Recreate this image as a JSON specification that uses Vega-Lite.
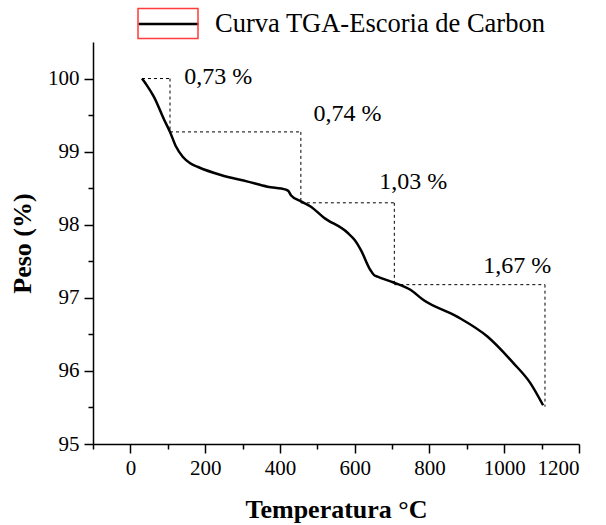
{
  "$schema": "https://vega.github.io/schema/vega-lite/v6.json",
  "width": 486,
  "height": 402,
  "autosize": "none",
  "padding": {"left": 93, "top": 42, "right": 27, "bottom": 81},
  "background": "white",
  "config": {
    "view": {"stroke": null},
    "font": "Liberation Serif",
    "axis": {
      "grid": false,
      "domainColor": "black",
      "domainWidth": 1.5,
      "tickColor": "black",
      "tickWidth": 1.5,
      "labelColor": "black",
      "labelFont": "Liberation Serif",
      "labelFontSize": 21,
      "titleFont": "Liberation Serif",
      "titleFontSize": 26,
      "titleFontWeight": "bold",
      "titleColor": "black"
    }
  },
  "datasets": {
    "curve": [
      {"T": 31, "W": 100.0, "series": "Curva TGA-Escoria de Carbon"},
      {"T": 45, "W": 99.9, "series": "Curva TGA-Escoria de Carbon"},
      {"T": 63, "W": 99.75, "series": "Curva TGA-Escoria de Carbon"},
      {"T": 90, "W": 99.44, "series": "Curva TGA-Escoria de Carbon"},
      {"T": 106, "W": 99.27, "series": "Curva TGA-Escoria de Carbon"},
      {"T": 122, "W": 99.07, "series": "Curva TGA-Escoria de Carbon"},
      {"T": 140, "W": 98.93, "series": "Curva TGA-Escoria de Carbon"},
      {"T": 160, "W": 98.84, "series": "Curva TGA-Escoria de Carbon"},
      {"T": 181, "W": 98.79, "series": "Curva TGA-Escoria de Carbon"},
      {"T": 242, "W": 98.68, "series": "Curva TGA-Escoria de Carbon"},
      {"T": 314, "W": 98.59, "series": "Curva TGA-Escoria de Carbon"},
      {"T": 367, "W": 98.52, "series": "Curva TGA-Escoria de Carbon"},
      {"T": 416, "W": 98.48, "series": "Curva TGA-Escoria de Carbon"},
      {"T": 423, "W": 98.46, "series": "Curva TGA-Escoria de Carbon"},
      {"T": 430, "W": 98.4, "series": "Curva TGA-Escoria de Carbon"},
      {"T": 456, "W": 98.32, "series": "Curva TGA-Escoria de Carbon"},
      {"T": 482, "W": 98.25, "series": "Curva TGA-Escoria de Carbon"},
      {"T": 517, "W": 98.1, "series": "Curva TGA-Escoria de Carbon"},
      {"T": 581, "W": 97.89, "series": "Curva TGA-Escoria de Carbon"},
      {"T": 600, "W": 97.79, "series": "Curva TGA-Escoria de Carbon"},
      {"T": 616, "W": 97.66, "series": "Curva TGA-Escoria de Carbon"},
      {"T": 642, "W": 97.38, "series": "Curva TGA-Escoria de Carbon"},
      {"T": 652, "W": 97.31, "series": "Curva TGA-Escoria de Carbon"},
      {"T": 661, "W": 97.29, "series": "Curva TGA-Escoria de Carbon"},
      {"T": 704, "W": 97.21, "series": "Curva TGA-Escoria de Carbon"},
      {"T": 749, "W": 97.11, "series": "Curva TGA-Escoria de Carbon"},
      {"T": 784, "W": 96.97, "series": "Curva TGA-Escoria de Carbon"},
      {"T": 875, "W": 96.74, "series": "Curva TGA-Escoria de Carbon"},
      {"T": 955, "W": 96.47, "series": "Curva TGA-Escoria de Carbon"},
      {"T": 1024, "W": 96.11, "series": "Curva TGA-Escoria de Carbon"},
      {"T": 1069, "W": 95.84, "series": "Curva TGA-Escoria de Carbon"},
      {"T": 1104, "W": 95.53, "series": "Curva TGA-Escoria de Carbon"}
    ],
    "steps": [
      {"x": 31, "y": 100.0, "x2": 106, "y2": 100.0},
      {"x": 106, "y": 100.0, "x2": 106, "y2": 99.27},
      {"x": 106, "y": 99.27, "x2": 456, "y2": 99.27},
      {"x": 456, "y": 99.27, "x2": 456, "y2": 98.3},
      {"x": 456, "y": 98.3, "x2": 706, "y2": 98.3},
      {"x": 706, "y": 98.3, "x2": 706, "y2": 97.18},
      {"x": 706, "y": 97.18, "x2": 1109, "y2": 97.18},
      {"x": 1109, "y": 97.18, "x2": 1109, "y2": 95.51}
    ],
    "labels": [
      {"T": 144, "W": 99.92, "label": "0,73 %"},
      {"T": 490, "W": 99.42, "label": "0,74 %"},
      {"T": 666, "W": 98.49, "label": "1,03 %"},
      {"T": 944, "W": 97.34, "label": "1,67 %"}
    ]
  },
  "layer": [
    {
      "data": {"name": "steps"},
      "mark": {"type": "rule", "color": "black", "strokeWidth": 1, "strokeDash": [3, 3]},
      "encoding": {
        "x": {
          "field": "x", "type": "quantitative",
          "scale": {"domain": [-100, 1200], "nice": false, "zero": false},
          "axis": {
            "orient": "bottom",
            "title": "Temperatura °C",
            "values": [0, 200, 400, 600, 800, 1000, 1200],
            "format": "d",
            "tickSize": 9,
            "labelPadding": 4,
            "titleX": 243,
            "titleY": 73,
            "titleBaseline": "alphabetic",
            "titleAlign": "center"
          }
        },
        "y": {
          "field": "y", "type": "quantitative",
          "scale": {"domain": [95, 100.5], "nice": false, "zero": false},
          "axis": {
            "orient": "left",
            "title": "Peso (%)",
            "values": [95, 96, 97, 98, 99, 100],
            "format": "d",
            "tickSize": 9,
            "labelPadding": 5,
            "titleX": -71,
            "titleY": 201,
            "titleBaseline": "middle",
            "titleAlign": "center"
          }
        },
        "x2": {"field": "x2"},
        "y2": {"field": "y2"}
      }
    },
    {
      "data": {"name": "labels"},
      "mark": {"type": "text", "font": "Liberation Serif", "fontSize": 24, "align": "left", "baseline": "alphabetic", "color": "black"},
      "encoding": {
        "x": {
          "field": "T", "type": "quantitative",
          "axis": {
            "orient": "bottom",
            "title": null,
            "values": [-100, 100, 300, 500, 700, 900, 1100],
            "labels": false,
            "domain": false,
            "tickSize": 5
          }
        },
        "y": {
          "field": "W", "type": "quantitative",
          "axis": {
            "orient": "left",
            "title": null,
            "values": [95.5, 96.5, 97.5, 98.5, 99.5],
            "labels": false,
            "domain": false,
            "tickSize": 5
          }
        },
        "text": {"field": "label"}
      }
    },
    {
      "data": {"name": "curve"},
      "mark": {"type": "line", "strokeWidth": 2.5, "interpolate": "monotone"},
      "encoding": {
        "x": {"field": "T", "type": "quantitative", "axis": null},
        "y": {"field": "W", "type": "quantitative", "axis": null},
        "stroke": {
          "field": "series", "type": "nominal",
          "scale": {"range": ["black"]},
          "legend": {
            "title": null,
            "orient": "none",
            "legendX": 44,
            "legendY": -49.5,
            "padding": 0,
            "symbolType": "stroke",
            "symbolSize": 3600,
            "symbolStrokeWidth": 2.5,
            "symbolStrokeColor": "black",
            "labelFont": "Liberation Serif",
            "labelFontSize": 26.5,
            "labelColor": "black",
            "labelOffset": 15,
            "labelLimit": 0
          }
        }
      }
    },
    {
      "data": {"name": "curve"},
      "transform": [{"filter": "datum.T < -1000"}],
      "mark": {"type": "point", "color": "#ff3b3b", "opacity": 1, "size": 3600, "strokeWidth": 1.5, "filled": false},
      "encoding": {
        "x": {"field": "T", "type": "quantitative", "axis": null},
        "y": {"field": "W", "type": "quantitative", "axis": null},
        "shape": {
          "datum": "box",
          "scale": {"domain": ["box"], "range": ["M-1,-0.5H1V0.5H-1Z"]},
          "legend": {
            "title": null,
            "orient": "none",
            "legendX": 44,
            "legendY": -49.5,
            "padding": 0,
            "symbolSize": 3600,
            "symbolStrokeColor": "#ff3b3b",
            "symbolFillColor": "transparent",
            "symbolStrokeWidth": 1.5,
            "labelExpr": "''",
            "labelOffset": 15
          }
        }
      }
    }
  ],
  "resolve": {"axis": {"x": "independent", "y": "independent"}}
}
